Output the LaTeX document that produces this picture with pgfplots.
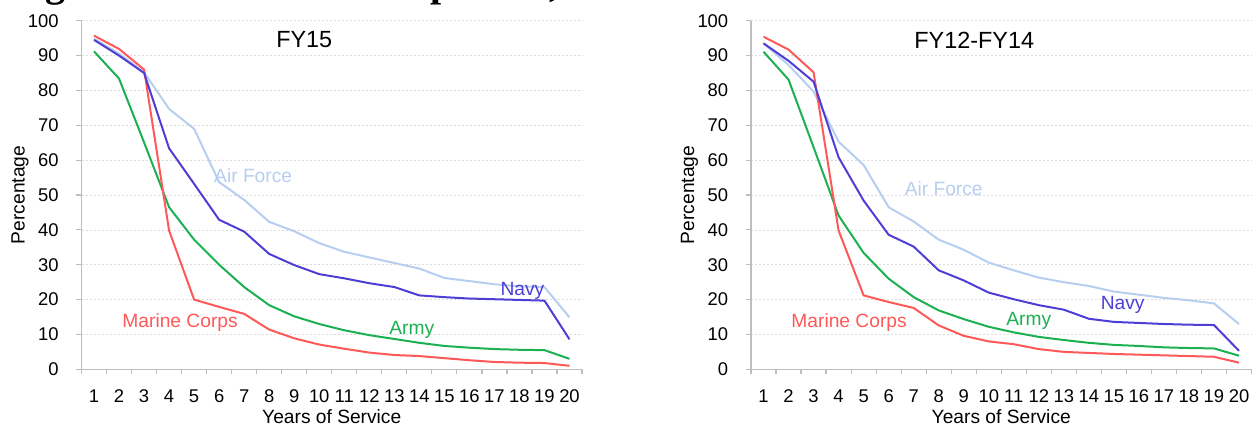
\documentclass[border=0pt]{standalone}
\usepackage{fontspec}
\setmainfont{Liberation Sans}
\newfontfamily\headfont{Liberation Serif}
\usepackage{pgfplots}
\usepackage{pgfplotstable}
\pgfplotsset{compat=1.18}

\definecolor{airforce}{RGB}{182,206,240}
\definecolor{navy}{RGB}{78,62,214}
\definecolor{army}{RGB}{28,176,82}
\definecolor{marine}{RGB}{255,88,88}
\definecolor{axisgray}{RGB}{190,190,190}

% years of service: air force, navy, army, marine corps
\pgfplotstableread{
yr af   navy army marine
1  94.8 94.5 91.2 95.7
2  90.6 90.0 83.4 91.9
3  85.2 85.0 65.1 86.0
4  74.7 63.4 46.5 39.8
5  69.0 53.2 37.2 20.0
6  53.7 42.9 30.0 17.9
7  48.6 39.5 23.6 15.9
8  42.3 33.1 18.4 11.4
9  39.6 29.9 15.2 8.9
10 36.2 27.3 13.0 7.1
11 33.7 26.1 11.2 5.9
12 32.1 24.7 9.8  4.8
13 30.5 23.6 8.7  4.1
14 28.9 21.2 7.6  3.8
15 26.2 20.7 6.7  3.2
16 25.3 20.3 6.2  2.6
17 24.4 20.1 5.8  2.1
18 23.8 19.9 5.6  1.9
19 23.6 19.7 5.5  1.8
20 14.9 8.6  3.0  1.0
}\fyfifteen

\pgfplotstableread{
yr af   navy army marine
1  93.5 93.5 91.1 95.4
2  87.3 88.5 83.1 91.7
3  79.7 82.5 63.7 85.2
4  65.3 60.8 44.1 39.8
5  58.6 48.4 33.4 21.2
6  46.5 38.6 26.0 19.3
7  42.4 35.2 20.7 17.6
8  37.2 28.4 16.9 12.6
9  34.3 25.5 14.4 9.6
10 30.6 22.0 12.2 8.0
11 28.4 20.1 10.6 7.2
12 26.3 18.4 9.3  5.8
13 25.0 17.1 8.4  5.0
14 23.9 14.5 7.6  4.7
15 22.3 13.6 7.0  4.4
16 21.4 13.3 6.7  4.2
17 20.5 13.0 6.3  4.0
18 19.8 12.8 6.1  3.8
19 18.9 12.7 6.0  3.6
20 13.0 5.3  3.9  1.9
}\fytwelve

\tikzset{serieslabel/.style={font=\fontsize{9.6}{11}\selectfont, inner sep=0pt}}

\pgfplotsset{
  retention/.style={
    anchor=south west,
    scale only axis,
    width=250.25pt,
    height=174.3pt,
    xmin=0.5, xmax=20.5,
    ymin=0, ymax=100,
    axis lines*=left,
    axis line style={draw=axisgray, line width=0.6pt},
    tick align=outside,
    xtick={1,...,20},
    minor xtick={0.5,1.5,...,20.5},
    ytick={0,10,...,100},
    major x tick style={draw=none},
    minor x tick style={draw=axisgray, line width=0.6pt},
    y tick style={draw=axisgray, line width=0.6pt},
    major tick length=2.5pt,
    minor tick length=2.5pt,
    ymajorgrids,
    major grid style={dash pattern=on 1.2pt off 0.8pt, draw=gray!28, line width=0.35pt},
    /pgf/number format/assume math mode=true,
    tick label style={font=\fontsize{9.2}{11}\selectfont, inner sep=0pt},
    xticklabel style={anchor=center, yshift=-11.1pt},
    yticklabel style={anchor=east, xshift=-8.7pt},
    label style={font=\fontsize{9.6}{11}\selectfont},
    xlabel={Years of Service},
    ylabel={Percentage},
    xlabel style={at={(axis description cs:0.5,-0.136)}, anchor=center},
    ylabel style={at={(axis description cs:-0.123,0.5)}, anchor=center},
    every axis plot/.append style={line width=1pt},
    clip=false,
  },
}

\begin{document}
\begin{tikzpicture}
\useasboundingbox (0,0) rectangle (628pt,212.5pt);

% bottoms of the cut-off heading above the charts
\node[anchor=base, inner sep=0pt, font=\headfont\bfseries\fontsize{20}{24}\selectfont] at (27.5pt,214.3pt) {g};
\node[anchor=base west, inner sep=0pt, font=\headfont\bfseries\fontsize{20}{24}\selectfont] at (215pt,214.3pt) {p};
\node[anchor=base, inner sep=0pt, font=\headfont\bfseries\fontsize{20}{24}\selectfont] at (277pt,214.3pt) {,};

\begin{axis}[retention, at={(40.75pt,27.85pt)}]
  \addplot[airforce] table[x=yr, y=af] {\fyfifteen};
  \addplot[army] table[x=yr, y=army] {\fyfifteen};
  \addplot[marine] table[x=yr, y=marine] {\fyfifteen};
  \addplot[navy] table[x=yr, y=navy] {\fyfifteen};
  \node[font=\fontsize{11.7}{14}\selectfont] at (axis cs:9.4,94.5) {FY15};
  \node[serieslabel, text=airforce] at (axis cs:7.36,55.5) {Air Force};
  \node[serieslabel, text=marine] at (axis cs:4.44,13.4) {Marine Corps};
  \node[serieslabel, text=army] at (axis cs:13.7,11.3) {Army};
  \node[serieslabel, text=navy] at (axis cs:18.12,22.5) {Navy};
\end{axis}

\begin{axis}[retention, at={(375.5pt,27.85pt)}]
  \addplot[airforce] table[x=yr, y=af] {\fytwelve};
  \addplot[army] table[x=yr, y=army] {\fytwelve};
  \addplot[marine] table[x=yr, y=marine] {\fytwelve};
  \addplot[navy] table[x=yr, y=navy] {\fytwelve};
  \node[font=\fontsize{11.7}{14}\selectfont] at (axis cs:9.42,94.5) {FY12-FY14};
  \node[serieslabel, text=airforce] at (axis cs:8.2,51.7) {Air Force};
  \node[serieslabel, text=marine] at (axis cs:4.42,13.4) {Marine Corps};
  \node[serieslabel, text=army] at (axis cs:11.6,13.9) {Army};
  \node[serieslabel, text=navy] at (axis cs:15.35,18.4) {Navy};
\end{axis}
\end{tikzpicture}
\end{document}
